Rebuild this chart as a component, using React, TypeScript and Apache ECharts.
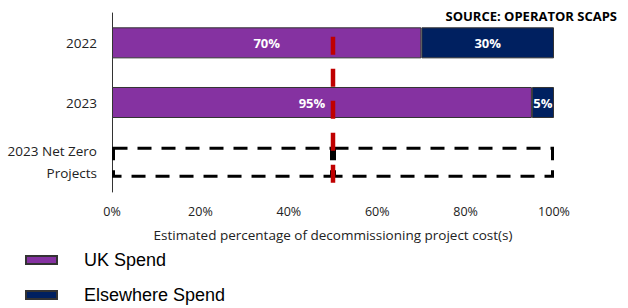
import React, { useEffect, useRef } from "react";
import * as echarts from "echarts";

const categories = ["2022", "2023", "2023 Net Zero Projects"];
const ukSpend = [70, 95, 50];
const elsewhereSpend = [30, 5, 50];
const netZeroLabel = "100%";
const xTicks = [0, 20, 40, 60, 80, 100];
const thresholdValue = 50;
// vertical extent of the threshold line, in category-band units (0 = top of first band)
const thresholdSpan = [0.4, 2.87];

const PURPLE = "#8532A1";
const NAVY = "#002060";
const RED = "#C00000";
const FONT = "'Open Sans', sans-serif";

export default function App() {
  const ref = useRef<HTMLDivElement>(null);
  useEffect(() => {
    if (!ref.current) return;
    document.body.style.margin = "0";
    const chart = echarts.init(ref.current, undefined, { renderer: "svg" });
    const dashedItem = {
      color: "rgba(0,0,0,0)",
      borderColor: "#000",
      borderWidth: 3,
      borderType: [14, 10],
    };
    const ukData = ukSpend.map((v, i) =>
      i === 2
        ? { value: v, itemStyle: dashedItem, label: { show: false } }
        : i === 1
        ? { value: v, label: { offset: [-10, 0] } }
        : { value: v }
    );
    const elseData = elsewhereSpend.map((v, i) =>
      i === 2
        ? {
            value: v,
            itemStyle: dashedItem,
            label: { show: true, formatter: netZeroLabel, color: "#ffffff" },
          }
        : { value: v }
    );
    chart.setOption({
      animation: false,
      title: {
        text: "SOURCE: OPERATOR SCAPS",
        right: 6,
        top: 4,
        textStyle: { fontFamily: FONT, fontSize: 13, fontWeight: "bold", color: "#000" },
      },
      grid: { left: 112, right: 74, top: 13, bottom: 116, containLabel: false },
      legend: {
        data: ["UK Spend", "Elsewhere Spend"],
        orient: "vertical",
        left: 25,
        top: 250,
        padding: 0,
        itemWidth: 31,
        itemHeight: 8,
        itemGap: 15,
        icon: "rect",
        textStyle: {
          fontFamily: "'Liberation Sans', Arial, sans-serif",
          fontSize: 18,
          lineHeight: 20,
          color: "#000",
          padding: [0, 0, 0, 22],
        },
      },
      xAxis: {
        type: "value",
        min: 0,
        max: 100,
        interval: 20,
        axisLine: { show: false },
        axisTick: { show: false },
        splitLine: { show: false },
        axisLabel: {
          formatter: (v: number) => (xTicks.includes(v) ? v + "%" : ""),
          fontFamily: FONT,
          fontSize: 12.5,
          color: "#222",
          margin: 13,
        },
        name: "Estimated percentage of decommissioning project cost(s)",
        nameLocation: "middle",
        nameGap: 36,
        nameTextStyle: { fontFamily: FONT, fontSize: 13.5, color: "#222" },
      },
      yAxis: [
        {
          type: "category",
          data: categories,
          inverse: true,
          axisLine: { show: true, lineStyle: { color: "#333", width: 1 } },
          axisTick: { show: false },
          axisLabel: {
            fontFamily: FONT,
            fontSize: 13.5,
            color: "#222",
            margin: 15,
            lineHeight: 22,
            formatter: (v: string) =>
              v === "2023 Net Zero Projects" ? "2023 Net Zero\nProjects" : v,
          },
        },
        {
          type: "value",
          min: 0,
          max: 3,
          inverse: true,
          show: false,
        },
      ],
      series: [
        {
          name: "UK Spend",
          type: "bar",
          stack: "total",
          barWidth: "52%",
          data: ukData,
          itemStyle: { color: PURPLE, borderColor: "#333", borderWidth: 1 },
          label: {
            show: true,
            position: "inside",
            formatter: "{c}%",
            color: "#fff",
            fontFamily: FONT,
            fontWeight: "bold",
            fontSize: 13,
          },
        },
        {
          name: "Elsewhere Spend",
          type: "bar",
          stack: "total",
          barWidth: "52%",
          data: elseData,
          itemStyle: { color: NAVY, borderColor: "#333", borderWidth: 1 },
          label: {
            show: true,
            position: "inside",
            formatter: "{c}%",
            color: "#fff",
            fontFamily: FONT,
            fontWeight: "bold",
            fontSize: 13,
          },
        },
        {
          name: "Threshold",
          type: "line",
          yAxisIndex: 1,
          z: 10,
          symbol: "none",
          silent: true,
          data: thresholdSpan.map((s) => [thresholdValue, s]),
          lineStyle: { color: RED, width: 4.5, type: [18, 14] },
        },
      ],
    });
    return () => chart.dispose();
  }, []);
  return <div ref={ref} style={{ width: 628, height: 308 }} />;
}
